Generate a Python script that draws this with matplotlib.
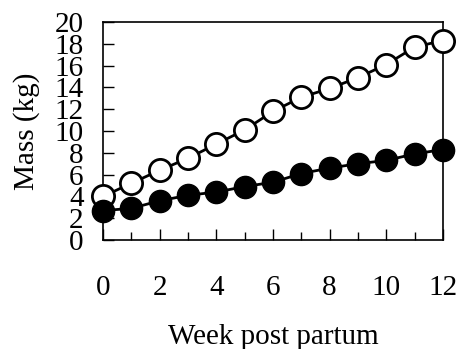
import matplotlib.pyplot as plt
from matplotlib.ticker import MultipleLocator

weeks = list(range(13))
open_mass = [4.0, 5.2, 6.4, 7.5, 8.8, 10.1, 11.8, 13.1, 13.9, 14.9, 16.1, 17.7, 18.3]
filled_mass = [2.7, 2.9, 3.6, 4.1, 4.4, 4.9, 5.3, 6.1, 6.6, 7.0, 7.3, 7.9, 8.3]

plt.rcParams['font.family'] = ['Liberation Serif', 'DejaVu Serif']

fig = plt.figure(figsize=(4.59, 3.49), dpi=100)
ax = fig.add_axes([103 / 459, 1 - 240 / 349, 340 / 459, 218 / 349])

l1, = ax.plot(weeks, open_mass, color="black", linewidth=2, marker="o", markersize=16,
              markerfacecolor="white", markeredgecolor="black", markeredgewidth=2, zorder=3)
l2, = ax.plot(weeks, filled_mass, color="black", linewidth=2, marker="o", markersize=16,
              markerfacecolor="black", markeredgecolor="black", zorder=3)
l1.set_clip_on(False)
l2.set_clip_on(False)

ax.set_xlim(0, 12)
ax.set_ylim(0, 20)
ax.xaxis.set_major_locator(MultipleLocator(2))
ax.xaxis.set_minor_locator(MultipleLocator(1))
ax.yaxis.set_major_locator(MultipleLocator(2))

ax.tick_params(axis="x", which="major", direction="in", length=8, width=1, pad=25, labelsize=21)
ax.tick_params(axis="x", which="minor", direction="in", length=6, width=1)
ax.tick_params(axis="y", which="major", direction="in", length=8, width=1, pad=14, labelsize=21)

for s in ax.spines.values():
    s.set_linewidth(1.2)

ax.set_xlabel("Week post partum", fontsize=21, labelpad=17)
ax.set_ylabel("Mass (kg)", fontsize=21, labelpad=10)

fig.savefig("out.png", dpi=100)
